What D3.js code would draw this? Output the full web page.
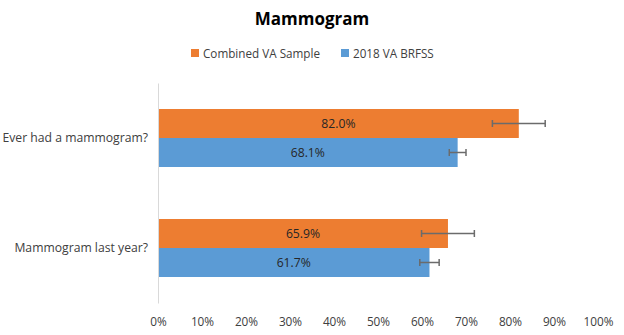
<!DOCTYPE html>
<html>
<head>
<meta charset="utf-8">
<script src="https://cdn.jsdelivr.net/npm/d3@7"></script>
<style>
  body { margin: 0; background: #fff; }
  text { font-family: "Open Sans", "Liberation Sans", sans-serif; }
</style>
</head>
<body>
<div id="chart"></div>
<script>
// data
let categories = ['Ever had a mammogram?', 'Mammogram last year?'];
let seriesNames = ['Combined VA Sample', '2018 VA BRFSS'];
let combinedValues = [82.0, 65.9];
let combinedErrors = [6.0, 6.0];
let brfssValues = [68.1, 61.7];
let brfssErrors = [1.9, 2.2];
let tickValues = [0, 10, 20, 30, 40, 50, 60, 70, 80, 90, 100];

let colors = ['#ED7D31', '#5B9BD5'];

// margins
let margin = { left: 158, right: 26, top: 83, bottom: 32 };
let width = 624 - margin.left - margin.right;
let height = 335 - margin.top - margin.bottom;

let svg = d3.select('#chart').append('svg')
    .attr('width', 624)
    .attr('height', 335);

// title
svg.append('text')
    .attr('x', 312)
    .attr('y', 25)
    .attr('text-anchor', 'middle')
    .attr('font-size', '17px')
    .attr('font-weight', 'bold')
    .attr('fill', '#000')
    .text('Mammogram');

// legend
let legendX = [191, 341];
seriesNames.forEach(function (name, i) {
    svg.append('rect')
        .attr('x', legendX[i])
        .attr('y', 49)
        .attr('width', 8)
        .attr('height', 8)
        .attr('fill', colors[i]);
    svg.append('text')
        .attr('x', legendX[i] + 12)
        .attr('y', 57.5)
        .attr('font-size', '11.7px')
        .attr('fill', '#404040')
        .text(name);
});

let g = svg.append('g')
    .attr('transform', 'translate(' + margin.left + ',' + margin.top + ')');

let x = d3.scaleLinear()
    .domain([0, 100])
    .range([0, width]);

let y = d3.scaleBand()
    .domain(categories)
    .range([0, height])
    .paddingInner(0)
    .paddingOuter(0);

let inner = d3.scaleBand()
    .domain(seriesNames)
    .range([26, y.bandwidth() - 26]);

// x axis (labels only)
let xAxis = d3.axisBottom(x)
    .tickValues(tickValues)
    .tickSize(0)
    .tickFormat(function (d) { return d + '%'; });
let xg = g.append('g')
    .attr('class', 'x axis')
    .attr('transform', 'translate(0,' + height + ')')
    .call(xAxis);
xg.select('.domain').remove();
xg.selectAll('text')
    .attr('y', 15)
    .attr('font-size', '11.8px')
    .attr('fill', '#404040');

// y axis
let yAxis = d3.axisLeft(y).tickSize(0).tickPadding(10);
let yg = g.append('g')
    .attr('class', 'y axis')
    .call(yAxis);
yg.select('.domain').attr('stroke', '#d9d9d9');
yg.selectAll('text')
    .attr('font-size', '12.2px')
    .attr('fill', '#404040');

// bars
let rows = [];
categories.forEach(function (c, i) {
    rows.push({ cat: c, series: seriesNames[0], value: combinedValues[i], err: combinedErrors[i], color: colors[0] });
    rows.push({ cat: c, series: seriesNames[1], value: brfssValues[i], err: brfssErrors[i], color: colors[1] });
});

g.selectAll('.bar')
    .data(rows)
    .enter()
    .append('rect')
    .attr('class', 'bar')
    .attr('x', x(0) + 1)
    .attr('y', function (d) { return y(d.cat) + inner(d.series); })
    .attr('width', function (d) { return x(d.value) - x(0) - 1; })
    .attr('height', inner.bandwidth())
    .attr('fill', function (d) { return d.color; });

// value labels
g.selectAll('.label')
    .data(rows)
    .enter()
    .append('text')
    .attr('class', 'label')
    .attr('x', function (d) { return x(d.value / 2); })
    .attr('y', function (d) { return y(d.cat) + inner(d.series) + inner.bandwidth() / 2; })
    .attr('dy', '0.35em')
    .attr('text-anchor', 'middle')
    .attr('font-size', '12.2px')
    .attr('fill', '#262626')
    .text(function (d) { return d.value.toFixed(1) + '%'; });

// error bars
let errs = g.selectAll('.err')
    .data(rows)
    .enter()
    .append('g')
    .attr('class', 'err')
    .attr('stroke', '#6b6b6b')
    .attr('stroke-width', 1.5);

errs.append('line')
    .attr('x1', function (d) { return x(d.value - d.err); })
    .attr('x2', function (d) { return x(d.value + d.err); })
    .attr('y1', function (d) { return y(d.cat) + inner(d.series) + inner.bandwidth() / 2; })
    .attr('y2', function (d) { return y(d.cat) + inner(d.series) + inner.bandwidth() / 2; });

[-1, 1].forEach(function (s) {
    errs.append('line')
        .attr('x1', function (d) { return x(d.value + s * d.err); })
        .attr('x2', function (d) { return x(d.value + s * d.err); })
        .attr('y1', function (d) { return y(d.cat) + inner(d.series) + inner.bandwidth() / 2 - 3.5; })
        .attr('y2', function (d) { return y(d.cat) + inner(d.series) + inner.bandwidth() / 2 + 3.5; });
});
</script>
</body>
</html>
